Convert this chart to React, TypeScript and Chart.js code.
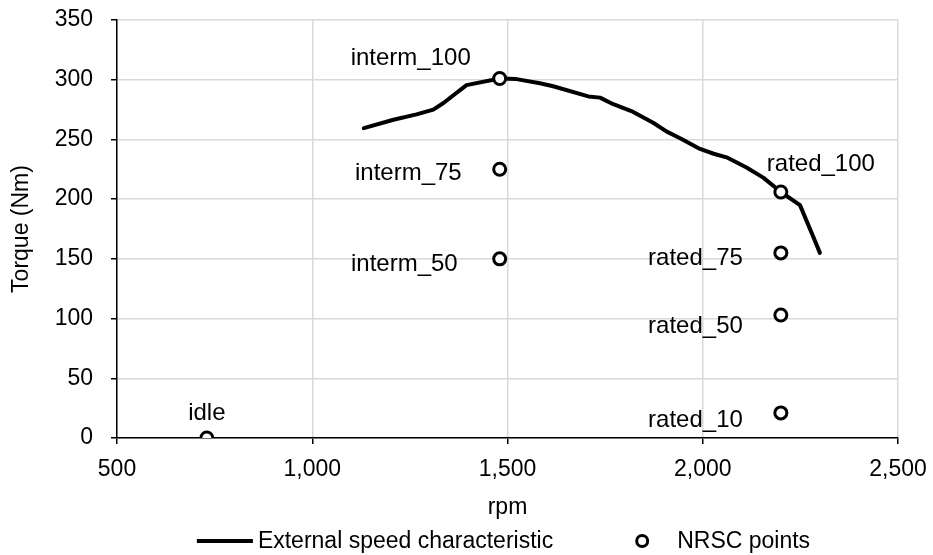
import React, { useEffect, useRef } from "react";
import { Chart, registerables } from "chart.js";

Chart.register(...registerables);

// ---- data ----
const curveRpm = [1132, 1208, 1267, 1310, 1336, 1395, 1480, 1523, 1583, 1617, 1707, 1737, 1771, 1822, 1873, 1908, 1942, 1993, 2028, 2061, 2112, 2155, 2200, 2249, 2283, 2300];
const curveTorque = [259.5, 266.5, 271, 275, 280.5, 295.5, 301, 300.5, 297, 294.5, 286, 285, 279.5, 273, 264, 256.5, 251, 242, 238, 235, 226.5, 218, 206, 195, 168.5, 155];

const nrscLabels = ["idle", "interm_100", "interm_75", "interm_50", "rated_100", "rated_75", "rated_50", "rated_10"];
const nrscRpm = [730, 1480, 1480, 1480, 2200, 2200, 2200, 2200];
const nrscTorque = [0, 301, 225, 150, 206, 155, 103, 21];

const xTicks = [500, 1000, 1500, 2000, 2500];
const yTicks = [0, 50, 100, 150, 200, 250, 300, 350];
const seriesNames = ["External speed characteristic", "NRSC points"];
const xTitle = "rpm";
const yTitle = "Torque (Nm)";

// ---- style (label placement relative to each point) ----
const labelPlacement: { align: CanvasTextAlign; dx: number; dy: number }[] = [
  { align: "center", dx: 0, dy: -25 },
  { align: "center", dx: -89, dy: -20 },
  { align: "right", dx: -38, dy: 4 },
  { align: "right", dx: -42, dy: 6 },
  { align: "center", dx: 40, dy: -28 },
  { align: "right", dx: -38, dy: 5 },
  { align: "right", dx: -38, dy: 11 },
  { align: "right", dx: -38, dy: 7 },
];

const FONT = "'Liberation Sans', Arial, sans-serif";
const font = { family: FONT, size: 23 };

const dataLabelPlugin = {
  id: "nrscLabels",
  afterDatasetsDraw(chart: any) {
    const ctx = chart.ctx;
    const meta = chart.getDatasetMeta(1);
    ctx.save();
    ctx.font = `24px ${FONT}`;
    ctx.fillStyle = "#000";
    ctx.textBaseline = "middle";
    meta.data.forEach((el: any, i: number) => {
      const p = labelPlacement[i];
      ctx.textAlign = p.align;
      ctx.fillText(nrscLabels[i], el.x + p.dx, el.y + p.dy);
    });
    ctx.restore();
  },
};

const legendPlugin = {
  id: "customLegend",
  afterDraw(chart: any) {
    const ctx = chart.ctx;
    ctx.save();
    ctx.font = `23px ${FONT}`;
    const w1 = ctx.measureText(seriesNames[0]).width;
    const w2 = ctx.measureText(seriesNames[1]).width;
    const lineLen = 56, g1 = 5, g2 = 89, g3 = 35;
    const total = lineLen + g1 + w1 + g2 + g3 + w2;
    const cx = (chart.chartArea.left + chart.chartArea.right) / 2 - 4;
    let x = cx - total / 2;
    const y = chart.height - 14;
    ctx.strokeStyle = "#000";
    ctx.lineWidth = 4;
    ctx.beginPath();
    ctx.moveTo(x, y);
    ctx.lineTo(x + lineLen, y);
    ctx.stroke();
    ctx.fillStyle = "#000";
    ctx.textBaseline = "middle";
    ctx.textAlign = "left";
    ctx.fillText(seriesNames[0], x + lineLen + g1, y + 1);
    const ccx = x + lineLen + g1 + w1 + g2;
    ctx.beginPath();
    ctx.arc(ccx, y, 5.5, 0, Math.PI * 2);
    ctx.fillStyle = "#fff";
    ctx.fill();
    ctx.lineWidth = 3;
    ctx.stroke();
    ctx.fillStyle = "#000";
    ctx.fillText(seriesNames[1], ccx + g3, y + 1);
    ctx.restore();
  },
};

export default function App() {
  const ref = useRef<HTMLCanvasElement>(null);
  useEffect(() => {
    const grid = { color: "#d9d9d9", lineWidth: 1.5, tickColor: "#000", tickLength: 6, tickWidth: 1.5 };
    const border = { color: "#000", width: 1.5 };
    const chart = new Chart(ref.current as HTMLCanvasElement, {
      type: "scatter",
      data: {
        datasets: [
          {
            type: "line",
            label: seriesNames[0],
            data: curveRpm.map((x, i) => ({ x, y: curveTorque[i] })),
            borderColor: "#000",
            borderWidth: 4,
            pointRadius: 0,
            tension: 0,
            fill: false,
            borderJoinStyle: "round",
            borderCapStyle: "round",
            order: 2,
          } as any,
          {
            type: "scatter",
            label: seriesNames[1],
            data: nrscRpm.map((x, i) => ({ x, y: nrscTorque[i] })),
            pointRadius: 6,
            pointBorderWidth: 3,
            pointBackgroundColor: "#fff",
            pointBorderColor: "#000",
            showLine: false,
            order: 1,
          } as any,
        ],
      },
      options: {
        responsive: false,
        animation: false,
        layout: { padding: { left: 0, right: 35, top: 20, bottom: 34 } },
        plugins: { legend: { display: false }, tooltip: { enabled: false } },
        scales: {
          x: {
            type: "linear",
            min: 500,
            max: 2500,
            afterBuildTicks: (s: any) => {
              s.ticks = xTicks.map((v) => ({ value: v }));
            },
            afterFit: (s: any) => {
              s.height = 83;
              s.paddingLeft = 0;
              s.paddingRight = 0;
            },
            ticks: {
              font,
              color: "#000",
              padding: 12,
              maxRotation: 0,
              autoSkip: false,
              callback: (v: any) => Number(v).toLocaleString("en-US"),
            },
            grid,
            border,
            title: { display: true, text: xTitle, font, color: "#000", padding: { top: 0, bottom: 0 } },
          },
          y: {
            type: "linear",
            min: 0,
            max: 350,
            afterBuildTicks: (s: any) => {
              s.ticks = yTicks.map((v) => ({ value: v }));
            },
            afterFit: (s: any) => {
              s.width = 117;
              s.paddingTop = 0;
              s.paddingBottom = 0;
            },
            ticks: { font, color: "#000", padding: 18, autoSkip: false },
            grid,
            border,
            title: { display: true, text: yTitle, font, color: "#000", padding: { top: 8, bottom: 0 } },
          },
        },
      } as any,
      plugins: [dataLabelPlugin, legendPlugin],
    });
    return () => chart.destroy();
  }, []);
  return (
    <div style={{ position: "fixed", left: 0, top: 0, width: 933, height: 555, background: "#fff" }}>
      <canvas ref={ref} width={933} height={555} style={{ display: "block", width: 933, height: 555 }} />
    </div>
  );
}
